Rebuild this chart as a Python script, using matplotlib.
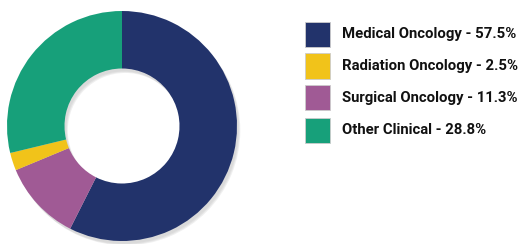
import matplotlib
matplotlib.use("Agg")
import matplotlib.pyplot as plt
from matplotlib.patches import Rectangle

labels = ["Medical Oncology", "Radiation Oncology", "Surgical Oncology", "Other Clinical"]
values = [57.5, 2.5, 11.3, 28.8]
colors = ["#22336B", "#F1C31A", "#A05A95", "#17A07A"]
# drawing order clockwise from top
pie_order = [0, 2, 1, 3]

W, H = 527, 244
fig = plt.figure(figsize=(W / 100, H / 100), dpi=100)
fig.patch.set_facecolor("white")

cx, cy, r = 122, 244 - 126, 115
ax = fig.add_axes([(cx - r) / W, (cy - r) / H, 2 * r / W, 2 * r / H])
ax.axis("off")

# soft shadow
for i, a in enumerate([0.04, 0.05, 0.06]):
    ax.pie([1], radius=1.0, colors=["#000000"], startangle=90,
           wedgeprops=dict(width=0.5, alpha=a, linewidth=0),
           center=(0.015 + 0.007 * i, -0.025 - 0.007 * i))

ax.pie([values[i] for i in pie_order], colors=[colors[i] for i in pie_order],
       startangle=90, counterclock=False, radius=1.0,
       wedgeprops=dict(width=0.5, linewidth=0))
ax.set_xlim(-1.0, 1.0)
ax.set_ylim(-1.0, 1.0)
ax.set_aspect("equal")

# legend
sq_x, sq_w = 305, 25
rows_y = [34, 66, 98, 130]
for lab, val, col, yc in zip(labels, values, colors, rows_y):
    fig.patches.append(Rectangle((sq_x / W, 1 - (yc + sq_w / 2) / H), sq_w / W, sq_w / H,
                                 transform=fig.transFigure, facecolor=col,
                                 edgecolor="#cccccc", linewidth=0.6))
    fig.text(342 / W, 1 - yc / H, f"{lab} - {val}%", fontsize=10.7, fontweight="bold",
             family="Roboto", color="#111111", va="center", ha="left")

fig.savefig("out.png", dpi=100)
